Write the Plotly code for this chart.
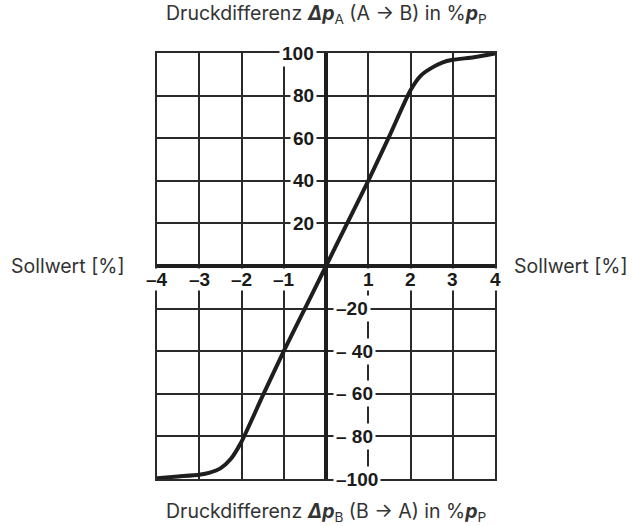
import plotly.graph_objects as go

# Curve data (Sollwert [%] vs pressure difference in %pP)
x_vals = [-4, -3.5, -3, -2.75, -2.5, -2.25, -2, -1.5, -1, -0.5, 0,
          0.5, 1, 1.5, 2, 2.25, 2.5, 2.75, 3, 3.5, 4]
y_vals = [-99.6, -98.8, -98, -97, -95, -90.5, -82.5, -61, -40, -20, 0,
          20, 40, 61, 82.5, 89.5, 93, 95.5, 96.8, 98, 99.8]

x_tick_vals = [-4, -3, -2, -1, 1, 2, 3, 4]
x_tick_text = ["–4", "–3", "–2", "–1", "1", "2", "3", "4"]
y_pos_vals = [20, 40, 60, 80, 100]
y_pos_text = ["20", "40", "60", "80", "100"]
y_neg_vals = [-20, -40, -60, -80, -100]
y_neg_text = ["–20", "– 40", "– 60", "– 80", "–100"]

title_top = "Druckdifferenz <b><i>Δp</i></b><sub>A</sub> (A → B) in %<b><i>p</i></b><sub>P</sub>"
title_bottom = "Druckdifferenz <b><i>Δp</i></b><sub>B</sub> (B → A) in %<b><i>p</i></b><sub>P</sub>"
side_label = "Sollwert [%]"

tick_font = dict(family="Liberation Sans Narrow, Arial Narrow, Liberation Sans, Arial", size=19, color="#1a1a1a")
text_font = dict(family="Inter, Noto Sans, Arial", size=19.5, color="#333333")

fig = go.Figure()
fig.add_trace(go.Scatter(x=x_vals, y=y_vals, mode="lines",
                         line=dict(color="#1e1e1e", width=4, shape="spline", smoothing=0.6),
                         hoverinfo="skip", showlegend=False))

annotations = []
for v, t in zip(x_tick_vals, x_tick_text):
    annotations.append(dict(x=v, y=0, xref="x", yref="y", text="<b>%s</b>" % t,
                            showarrow=False, yanchor="top", yshift=-2, font=tick_font,
                            bgcolor="white", borderpad=0))
for v, t in zip(y_pos_vals, y_pos_text):
    annotations.append(dict(x=0, y=v, xref="x", yref="y", text="<b>%s</b>" % t,
                            showarrow=False, xanchor="right", xshift=-9, font=tick_font,
                            bgcolor="white", borderpad=2))
for v, t in zip(y_neg_vals, y_neg_text):
    annotations.append(dict(x=0, y=v, xref="x", yref="y", text="<b>%s</b>" % t,
                            showarrow=False, xanchor="left", xshift=7, font=tick_font,
                            bgcolor="white", borderpad=2))

annotations += [
    dict(x=0.5, y=1.0915, xref="paper", yref="paper", text=title_top, showarrow=False,
         font=text_font, xanchor="center", yanchor="middle"),
    dict(x=0.5, y=-0.078, xref="paper", yref="paper", text=title_bottom, showarrow=False,
         font=text_font, xanchor="center", yanchor="middle"),
    dict(x=-0.263, y=0.5, xref="paper", yref="paper", text=side_label, showarrow=False,
         font=text_font, xanchor="center", yanchor="middle"),
    dict(x=1.225, y=0.5, xref="paper", yref="paper", text=side_label, showarrow=False,
         font=text_font, xanchor="center", yanchor="middle"),
]

fig.update_layout(
    width=636, height=526,
    margin=dict(l=157, r=141, t=53, b=47),
    plot_bgcolor="white", paper_bgcolor="white",
    annotations=annotations,
    showlegend=False,
)
fig.update_xaxes(range=[-4, 4], dtick=1, tick0=0, showgrid=True, gridcolor="#2a2a2a",
                 gridwidth=1.5, showticklabels=False, ticks="", zeroline=True,
                 zerolinecolor="#1e1e1e", zerolinewidth=4, showline=True, linecolor="#2a2a2a",
                 linewidth=1.5, mirror=True, fixedrange=True)
fig.update_yaxes(range=[-100, 100], dtick=20, tick0=0, showgrid=True, gridcolor="#2a2a2a",
                 gridwidth=1.5, showticklabels=False, ticks="", zeroline=True,
                 zerolinecolor="#1e1e1e", zerolinewidth=4, showline=True, linecolor="#2a2a2a",
                 linewidth=1.5, mirror=True, fixedrange=True)

fig.write_html("out.html", config={"displayModeBar": False},
               post_script="document.body.style.margin='0';document.body.style.overflow='hidden';")
